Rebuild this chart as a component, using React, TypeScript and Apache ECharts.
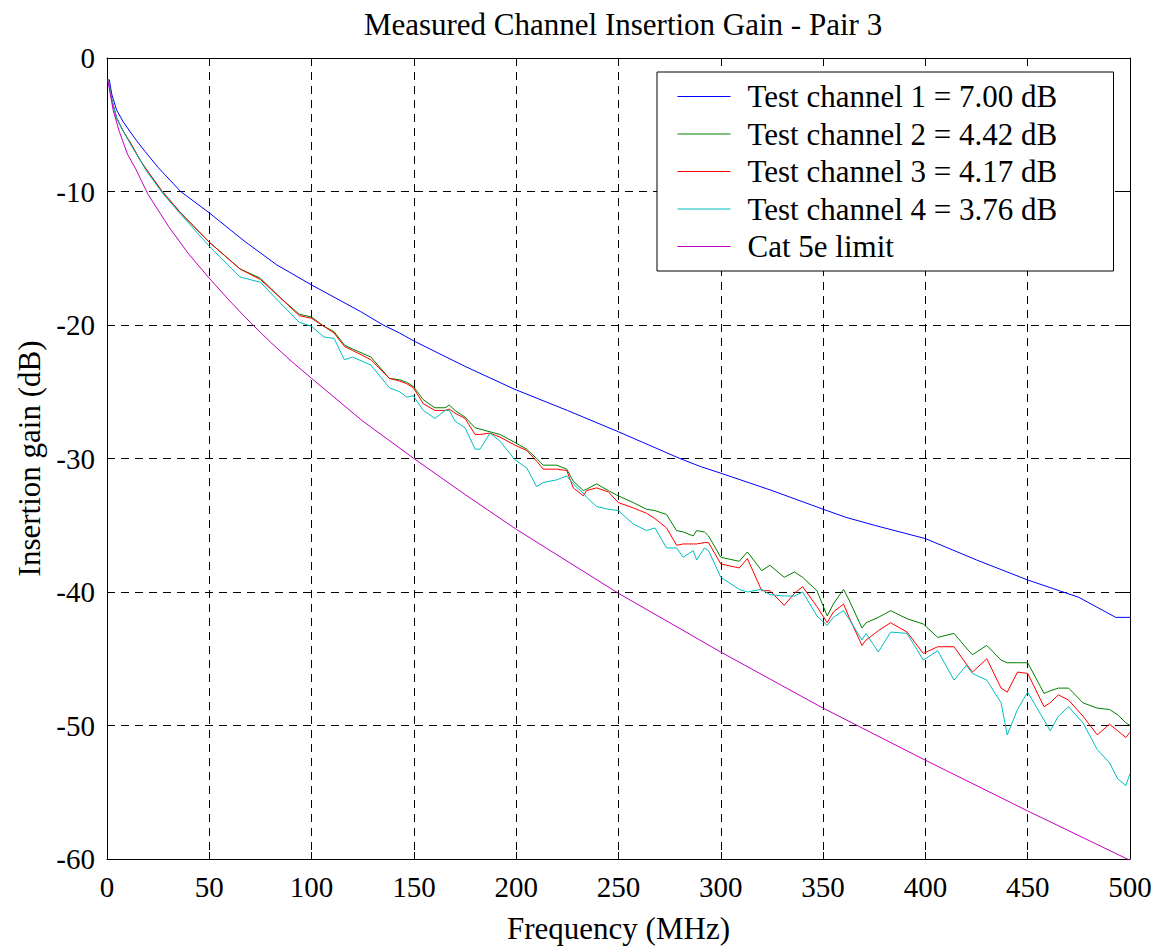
import React, { useEffect, useRef } from "react";
import * as echarts from "echarts";

// ---- data ----
const titleText = "Measured Channel Insertion Gain - Pair 3";
const xTicks = [0, 50, 100, 150, 200, 250, 300, 350, 400, 450, 500];
const yTicks = [-60, -50, -40, -30, -20, -10, 0];

const legendNames = [
  "Test channel 1 = 7.00 dB",
  "Test channel 2 = 4.42 dB",
  "Test channel 3 = 4.17 dB",
  "Test channel 4 = 3.76 dB",
  "Cat 5e limit",
];

// Test channel 1
const ch1Freq = [1.1, 2.3, 4.7, 8, 11.2, 14.5, 18.6, 25, 36, 50, 67, 83, 100, 124, 135, 143, 150, 175, 199, 225, 250, 280, 290, 300, 325, 350, 361, 375, 400, 425, 450, 475, 493, 500];
const ch1Gain = [-1.6, -2.7, -3.9, -4.8, -5.5, -6.2, -7.0, -8.2, -10.0, -11.6, -13.7, -15.5, -17.0, -19.0, -20.0, -20.6, -21.2, -23.1, -24.8, -26.4, -28.0, -30.0, -30.6, -31.1, -32.4, -33.8, -34.4, -35.0, -36.0, -37.6, -39.1, -40.4, -41.9, -41.9];

// Test channels 2, 3, 4 share a frequency grid
const chFreq = [0.6, 2.3, 4.7, 8, 12, 16, 19, 27, 36, 50, 65, 75, 85, 94, 100, 106, 111, 116, 120, 129, 138, 143, 146.5, 149.7, 154.6, 160.3, 165.2, 167.3, 170.1, 175, 179.9, 182.3, 187.2, 192.1, 199.4, 205.1, 210, 213.2, 219.8, 224.7, 227.9, 232.8, 234.4, 239.3, 245, 249.9, 257.2, 263.7, 267.8, 273.5, 278.4, 281.6, 286.5, 288.2, 292, 294, 300, 309, 313, 320, 324, 331, 336, 340, 347, 352, 355, 360, 363, 369, 371, 377, 383, 391, 399, 406, 414, 420, 423, 430, 437, 440, 445, 450, 458, 461, 465, 470, 477, 484, 490, 494, 498, 500];
const ch2Gain = [-1.6, -3.1, -4.5, -5.5, -6.5, -7.6, -8.3, -10.0, -11.6, -13.8, -15.8, -16.5, -18.0, -19.2, -19.4, -20.1, -20.5, -21.5, -21.8, -22.4, -24.0, -24.1, -24.3, -24.6, -25.6, -26.2, -26.2, -26.0, -26.4, -26.9, -27.7, -27.8, -28.0, -28.2, -28.8, -29.3, -30.0, -30.5, -30.5, -30.8, -31.7, -32.4, -32.3, -31.9, -32.4, -32.8, -33.3, -33.8, -33.9, -34.2, -35.4, -35.5, -35.8, -35.4, -35.5, -35.8, -37.4, -37.7, -37.0, -38.4, -38.0, -38.9, -38.5, -38.9, -39.9, -41.8, -40.9, -39.8, -40.7, -42.7, -42.3, -41.9, -41.4, -42.0, -42.4, -43.4, -43.1, -44.2, -44.7, -44.0, -45.1, -45.3, -45.3, -45.3, -47.6, -47.4, -47.2, -47.2, -48.3, -48.7, -48.8, -49.2, -49.8, -50.0];
const ch3Gain = [-1.6, -3.1, -4.5, -5.5, -6.5, -7.6, -8.3, -10.0, -11.6, -13.8, -15.8, -16.6, -18.0, -19.3, -19.5, -20.1, -20.6, -21.6, -21.9, -22.6, -24.0, -24.2, -24.4, -24.7, -25.9, -26.4, -26.4, -26.3, -26.6, -27.0, -28.2, -28.2, -28.1, -28.4, -29.0, -29.4, -30.2, -30.8, -30.8, -30.9, -32.2, -32.8, -32.4, -32.2, -32.5, -33.3, -33.7, -34.1, -34.5, -35.2, -36.5, -36.4, -36.4, -36.4, -36.3, -36.3, -37.9, -38.2, -37.5, -39.9, -39.9, -41.0, -40.1, -39.6, -41.1, -42.3, -41.5, -40.9, -42.0, -44.0, -43.6, -42.9, -42.3, -43.0, -44.6, -44.1, -44.1, -45.4, -46.0, -45.0, -47.2, -47.5, -46.0, -46.1, -48.6, -48.3, -47.7, -48.1, -49.3, -50.7, -49.9, -50.4, -50.9, -50.5];
const ch4Gain = [-1.6, -3.1, -4.5, -5.5, -6.6, -7.6, -8.4, -10.1, -11.7, -14.1, -16.4, -16.8, -18.4, -19.8, -20.1, -20.9, -21.0, -22.6, -22.4, -23.0, -24.7, -25.0, -25.4, -25.3, -26.4, -27.0, -26.4, -26.4, -27.2, -27.7, -29.3, -29.3, -28.1, -28.7, -30.1, -30.7, -32.1, -31.8, -31.6, -31.3, -31.9, -32.6, -32.9, -33.6, -33.8, -33.9, -34.9, -35.4, -35.2, -36.7, -36.7, -37.4, -36.9, -37.6, -36.7, -36.9, -38.9, -39.8, -40.0, -39.8, -40.2, -40.3, -40.3, -40.0, -41.8, -42.5, -41.9, -41.4, -42.1, -43.6, -43.1, -44.5, -43.0, -43.1, -45.1, -44.4, -46.6, -45.5, -46.1, -46.6, -48.3, -50.7, -48.8, -47.5, -49.6, -50.4, -49.3, -48.6, -49.8, -51.8, -52.8, -54.0, -54.5, -53.6];

// Cat 5e limit
const limFreq = [0.3, 1.5, 3, 6, 10, 14, 20, 30, 40, 50, 60, 70, 80, 90, 100, 125, 150, 175, 200, 250, 300, 350, 400, 450, 500];
const limGain = [-1.6, -2.6, -3.9, -5.5, -7.2, -8.3, -10.2, -12.6, -14.7, -16.5, -18.2, -19.8, -21.3, -22.7, -24.0, -27.2, -30.0, -32.7, -35.3, -40.1, -44.5, -48.7, -52.6, -56.4, -60.1];

const colors = ["#0000ff", "#008000", "#ff0000", "#00bfbf", "#bf00bf"];

const FONT = "Liberation Serif";

function pairs(f: number[], v: number[]) {
  return f.map((x, i) => [x, v[i]]);
}

export default function App() {
  const ref = useRef<HTMLDivElement>(null);
  useEffect(() => {
    if (!ref.current) return;
    const chart = echarts.init(ref.current, undefined, { renderer: "svg" });
    const seriesData = [
      pairs(ch1Freq, ch1Gain),
      pairs(chFreq, ch2Gain),
      pairs(chFreq, ch3Gain),
      pairs(chFreq, ch4Gain),
      pairs(limFreq, limGain),
    ];
    const gridLine = { show: true, lineStyle: { color: "#000", width: 1, type: [8, 6] as any } };
    const axisLine = { show: true, onZero: false, lineStyle: { color: "#000", width: 1 } };
    const tick = { show: true, inside: true, length: 7, lineStyle: { color: "#000" } };
    const label = { color: "#000", fontFamily: FONT, fontSize: 29 };
    chart.setOption({
      animation: false,
      backgroundColor: "#fff",
      title: {
        text: titleText,
        left: 618,
        textAlign: "center",
        top: 4,
        textStyle: { fontFamily: FONT, fontSize: 31, fontWeight: "normal", color: "#000" },
      },
      grid: { left: 107, right: 28, top: 58, bottom: 86, containLabel: false },
      legend: {
        orient: "vertical",
        left: 657,
        top: 72,
        padding: [9, 26, 9, 20],
        itemWidth: 53,
        itemHeight: 14,
        itemGap: 6.5,
        itemStyle: { opacity: 0 },
        lineStyle: { width: 1 },
        backgroundColor: "#fff",
        borderColor: "#000",
        borderWidth: 1,
        borderRadius: 0,
        z: 20,
        textStyle: {
          fontFamily: FONT,
          fontSize: 31,
          color: "#000",
          lineHeight: 30,
          width: 340,
          padding: [0, 0, 0, 12],
        },
        data: legendNames,
      },
      xAxis: [
        {
          type: "value",
          min: 0,
          max: 500,
          interval: 50,
          position: "bottom",
          name: "Frequency (MHz)",
          nameLocation: "middle",
          nameGap: 54,
          nameTextStyle: { fontFamily: FONT, fontSize: 31, color: "#000" },
          axisLine,
          axisTick: tick,
          axisLabel: { ...label, margin: 13 },
          splitLine: gridLine,
        },
        {
          type: "value",
          min: 0,
          max: 500,
          interval: 50,
          position: "top",
          axisLine,
          axisTick: tick,
          axisLabel: { show: false },
          splitLine: { show: false },
        },
      ],
      yAxis: [
        {
          type: "value",
          min: -60,
          max: 0,
          interval: 10,
          position: "left",
          name: "Insertion gain (dB)",
          nameLocation: "middle",
          nameGap: 61,
          nameTextStyle: { fontFamily: FONT, fontSize: 31, color: "#000" },
          axisLine,
          axisTick: tick,
          axisLabel: { ...label, margin: 12 },
          splitLine: gridLine,
        },
        {
          type: "value",
          min: -60,
          max: 0,
          interval: 10,
          position: "right",
          axisLine,
          axisTick: tick,
          axisLabel: { show: false },
          splitLine: { show: false },
        },
      ],
      series: legendNames.map((name, i) => ({
        name,
        type: "line",
        data: seriesData[i],
        symbol: "none",
        showSymbol: false,
        smooth: false,
        xAxisIndex: 0,
        yAxisIndex: 0,
        lineStyle: { color: colors[i], width: 1 },
        itemStyle: { color: colors[i] },
        z: 3,
      })),
    });
    return () => chart.dispose();
  }, []);
  return (
    <div
      ref={ref}
      style={{ position: "absolute", left: 0, top: 0, width: 1158, height: 949 }}
    />
  );
}
